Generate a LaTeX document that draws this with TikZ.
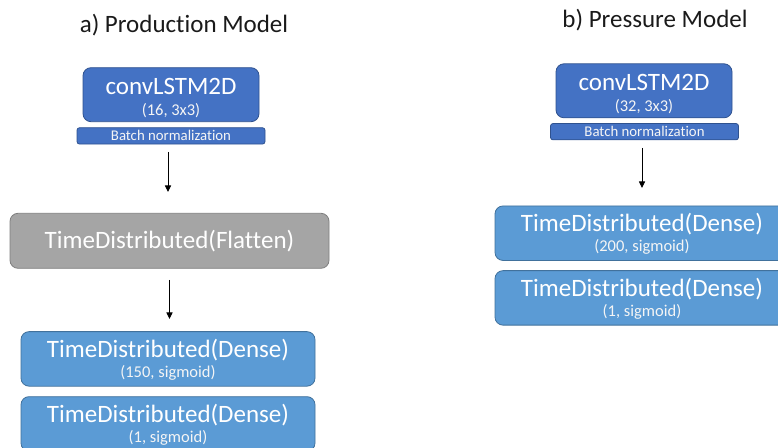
\documentclass[tikz,border=0pt]{standalone}
\usepackage{fontspec}
\setmainfont{Carlito}[Ligatures={NoCommon}]
\usetikzlibrary{calc,arrows.meta}
\definecolor{convblue}{HTML}{4472C4}
\definecolor{convborder}{HTML}{2F528F}
\definecolor{denseblue}{HTML}{5B9BD5}
\definecolor{denseborder}{HTML}{41719C}
\definecolor{flatgray}{HTML}{A5A5A5}
\definecolor{flatborder}{HTML}{7F7F7F}
\definecolor{titlecol}{HTML}{1A1A1A}
\tikzset{
  boxbase/.style={line width=0.8pt, inner sep=0pt, outer sep=0pt},
  convbox/.style={boxbase, draw=convborder, fill=convblue, rounded corners=8pt, minimum width=176pt, minimum height=54pt},
  bnbox/.style={boxbase, draw=convborder, fill=convblue, rounded corners=2.5pt, minimum width=188pt, minimum height=16.3pt},
  flatbox/.style={boxbase, draw=flatborder, fill=flatgray, rounded corners=8pt, minimum width=319pt, minimum height=55pt},
  densebox/.style={boxbase, draw=denseborder, fill=denseblue, rounded corners=8pt, minimum width=294pt, minimum height=54.5pt},
  bigtext/.style={text=white, font=\fontsize{25}{30}\selectfont, anchor=base, inner sep=0pt},
  smalltext/.style={text=white!92!gray, font=\fontsize{16.5}{20}\selectfont, anchor=base, inner sep=0pt},
  bntext/.style={text=white!92!gray, font=\fontsize{14.8}{18}\selectfont, anchor=base, inner sep=0pt},
  titletext/.style={text=titlecol, font=\fontsize{25}{30}\selectfont, anchor=base, inner sep=0pt},
  flow/.style={line width=0.9pt, -{Triangle[length=6.5pt,width=6pt]}}
}
\begin{document}
\begin{tikzpicture}[x=1pt,y=1pt]
\useasboundingbox (0,0) rectangle (778,447);
\clip (0,0) rectangle (778,447);
% ---------- a) Production Model ----------
\node[titletext] (titleA) at (184,{447-33}) {a) Production Model};
\node[convbox] (convA) at (171,{447-94.7}) {};
\node[bigtext] (convAt) at ($(convA.north)+(0,-26.5)$) {convLSTM2D};
\node[smalltext] (convAs) at ($(convA.north)+(0,-47.5)$) {(16, 3x3)};
\node[bnbox] (bnA) at (171,{447-135.9}) {};
\node[bntext] (bnAt) at ($(bnA.north)+(0,-13)$) {Batch normalization};
\coordinate (a1s) at (168,{447-152});
\coordinate (a1e) at (168,{447-192});
\draw[flow] (a1s) -- (a1e);
\node[flatbox] (flatA) at (169.5,{447-240.8}) {};
\node[bigtext] (flatAt) at ($(flatA.north)+(0,-35)$) {TimeDistributed(Flatten)};
\coordinate (a2s) at (169.5,{447-280});
\coordinate (a2e) at (169.5,{447-319});
\draw[flow] (a2s) -- (a2e);
\node[densebox] (d1A) at (168,{447-358.9}) {};
\node[bigtext] (d1At) at ($(d1A.north)+(0,-25.5)$) {TimeDistributed(Dense)};
\node[smalltext] (d1As) at ($(d1A.north)+(0,-46)$) {(150, sigmoid)};
\node[densebox] (d2A) at (168,{447-423.9}) {};
\node[bigtext] (d2At) at ($(d2A.north)+(0,-25.5)$) {TimeDistributed(Dense)};
\node[smalltext] (d2As) at ($(d2A.north)+(0,-46)$) {(1, sigmoid)};
% ---------- b) Pressure Model ----------
\node[titletext] (titleB) at (655,{447-28}) {b) Pressure Model};
\node[convbox] (convB) at (644,{447-90.8}) {};
\node[bigtext] (convBt) at ($(convB.north)+(0,-26.5)$) {convLSTM2D};
\node[smalltext] (convBs) at ($(convB.north)+(0,-47.5)$) {(32, 3x3)};
\node[bnbox] (bnB) at (644.5,{447-131.7}) {};
\node[bntext] (bnBt) at ($(bnB.north)+(0,-13)$) {Batch normalization};
\coordinate (b1s) at (642,{447-148});
\coordinate (b1e) at (642,{447-188});
\draw[flow] (b1s) -- (b1e);
\node[densebox] (d1B) at (642,{447-233.2}) {};
\node[bigtext] (d1Bt) at ($(d1B.north)+(0,-25.5)$) {TimeDistributed(Dense)};
\node[smalltext] (d1Bs) at ($(d1B.north)+(0,-46)$) {(200, sigmoid)};
\node[densebox] (d2B) at (642,{447-297.9}) {};
\node[bigtext] (d2Bt) at ($(d2B.north)+(0,-25.5)$) {TimeDistributed(Dense)};
\node[smalltext] (d2Bs) at ($(d2B.north)+(0,-46)$) {(1, sigmoid)};
\end{tikzpicture}
\end{document}
